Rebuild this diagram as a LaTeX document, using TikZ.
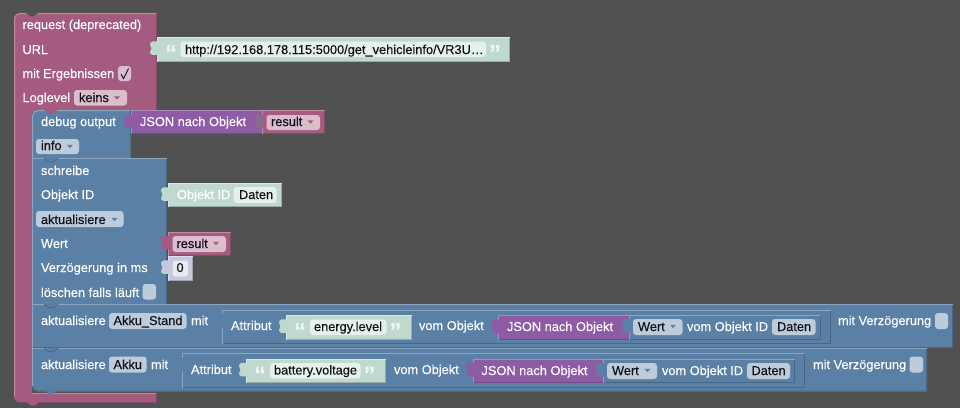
\documentclass[tikz,border=0pt]{standalone}
\usepackage{fontspec}
\setmainfont[FakeBold=0.15]{Liberation Sans}
\definecolor{bg}{HTML}{515151}
\definecolor{pk}{HTML}{A55B80}\definecolor{pkL}{HTML}{C08DA6}\definecolor{pkD}{HTML}{844966}\definecolor{pkF}{HTML}{DBBDCC}
\definecolor{bl}{HTML}{5B80A5}\definecolor{blL}{HTML}{8CA6C0}\definecolor{blD}{HTML}{496684}\definecolor{blF}{HTML}{BDCCDB}
\definecolor{gr}{HTML}{BFD9CF}\definecolor{grL}{HTML}{D9E8E2}\definecolor{grD}{HTML}{98ADA5}\definecolor{grF}{HTML}{E6F0EC}
\definecolor{pu}{HTML}{8E5BA5}\definecolor{puL}{HTML}{AA8CC0}\definecolor{puD}{HTML}{724984}
\definecolor{nu}{HTML}{C6C9DD}\definecolor{nuL}{HTML}{DDDFEB}\definecolor{nuD}{HTML}{9EA1B1}\definecolor{nuF}{HTML}{E8E9F1}
\definecolor{ink}{HTML}{101018}
\tikzset{
  x=1pt,y=-1pt,
  wlabel/.style={anchor=base west,inner sep=0pt,outer sep=0pt,text=white,font=\fontsize{12.8}{14}\selectfont},
  dlabel/.style={anchor=base west,inner sep=0pt,outer sep=0pt,text=ink,font=\fontsize{12.8}{14}\selectfont},
  qmark/.style={anchor=center,inner sep=0pt,font=\fontsize{23}{23}\selectfont\bfseries},
  fieldbox/.style={rounded corners=3pt},
}
% block: x1,y1,x2,y2,colour prefix
\newcommand{\blk}[5]{%
  \fill[#5] (#1,#2) rectangle (#3,#4);
  \draw[#5D,line width=1pt] (#3-.5,#2) -- (#3-.5,#4-.5) -- (#1,#4-.5);
  \draw[#5L,line width=1pt] (#1+.5,#4) -- (#1+.5,#2+.5) -- (#3,#2+.5);}
% puzzle tab on left side of a value block: x, block top, colour prefix
\newcommand{\tabl}[3]{%
  \fill[#3] (#1+1,#2+4.5) -- (#1,#2+4.5) .. controls (#1-3,#2+4) and (#1-7,#2+4) .. (#1-7,#2+7.5)
     .. controls (#1-7,#2+9.5) and (#1-5.5,#2+9.5) .. (#1-5.5,#2+11.5)
     .. controls (#1-5.5,#2+13.5) and (#1-7,#2+13.5) .. (#1-7,#2+15)
     .. controls (#1-7,#2+18.5) and (#1-3,#2+18) .. (#1,#2+18) -- (#1+1,#2+18) -- cycle;}
\newcommand{\notch}[3]{\fill[#3] (#1,#2-.2) -- (#1+5,#2+3.5) -- (#1+9,#2+3.5) -- (#1+14,#2-.2) -- cycle;}
% text field: x1,y1,x2,y2,fill
\newcommand{\fld}[5]{\fill[#5,fieldbox] (#1,#2) rectangle (#3,#4);}
\newcommand{\arrowd}[3]{\fill[#3] (#1-3,#2-1.7) -- (#1+3,#2-1.7) -- (#1,#2+1.7) -- cycle;}
\begin{document}
\begin{tikzpicture}
\useasboundingbox (0,0) rectangle (960,408);
\fill[bg] (0,0) rectangle (960,408);

% request block
\fill[pk] (14,19) .. controls (14,15.7) and (16.7,13) .. (20,13) -- (156.5,13) -- (156.5,112) -- (32,112) -- (32,393) -- (156.5,393) -- (156.5,402.5) -- (20,402.5) .. controls (16.7,402.5) and (14,399.8) .. (14,396.5) -- cycle;
\draw[pkL,line width=1pt] (14.5,396) -- (14.5,19) .. controls (14.5,16) and (17,13.5) .. (20,13.5) -- (157,13.5);
\draw[pkD,line width=1pt] (156,13) -- (156,112);
\draw[pkD,line width=1pt] (156,393) -- (156,402.5) -- (20,402.5);
\fill[pkL] (32,393) rectangle (156,394);
\fill[bg] (25,12.5) -- (30,16) -- (34,16) -- (39,12.5) -- cycle;
\fill[pk] (27,402) -- (31,405.5) -- (35,405.5) -- (39,402) -- cycle;

\node[wlabel] (reqT) at (22.5,29) {request (deprecated)};
\node[wlabel] (urlT) at (22.5,54) {URL};
\node[wlabel] (ergT) at (22.5,78) {mit Ergebnissen};
\fld{118}{66}{131}{81}{pkF}
\draw[ink,line width=.9pt] (121,74) -- (123.5,78.5) -- (128.5,68.5);
\node[wlabel] (logT) at (22.5,102) {Loglevel};
\fld{74}{90}{127}{105.5}{pkF}
\node[dlabel] (keinsT) at (79,102) {keins};
\arrowd{117}{98}{pk}

% URL string
\blk{157}{37}{510}{61.5}{gr}
\tabl{157}{37}{gr}
\node[qmark,text=grL!40!white] (q1) at (171,53) {“};
\fld{180.5}{41.5}{486}{57}{grF}
\node[dlabel] (urlV) at (185,54) {http://192.168.178.115:5000/get\_vehicleinfo/VR3U…};
\node[qmark,text=grL!40!white] (q2) at (495,53) {”};

% debug output
\fill[bl] (32,116) .. controls (32,112.7) and (34.7,110) .. (38,110) -- (130.5,110) -- (130.5,158) -- (32,158) -- cycle;
\draw[blL,line width=1pt] (32.5,158) -- (32.5,116) .. controls (32.5,113) and (35,110.5) .. (38,110.5) -- (131,110.5);
\draw[blD,line width=1pt] (130.5,110) -- (130.5,134);
\notch{44}{110}{pk}
\node[wlabel] (dbgT) at (41,126) {debug output};
\fld{36}{139}{79}{154}{blF}
\node[dlabel] (infoT) at (41,150) {info};
\arrowd{70}{146.5}{bl}
\blk{131}{110}{262.5}{134}{pu}
\tabl{131}{110}{pu}
\node[wlabel] (js0) at (140,126) {JSON nach Objekt};
\blk{262}{110}{325}{134}{pk}
\tabl{262}{110}{bl!40!pk}
\fld{266.5}{115}{320}{130}{pkF}
\node[dlabel] (res0) at (271,126) {result};
\arrowd{310.5}{122}{pk}

% schreibe
\blk{32}{158}{167}{304.5}{bl}
\notch{44}{158}{bl}
\draw[blD,line width=.8pt] (44,158.3) -- (49,161.8) -- (53,161.8) -- (58,158.3);
\node[wlabel] (schrT) at (41,175) {schreibe};
\node[wlabel] (oidT) at (41,199) {Objekt ID};
\fld{36}{211}{123.5}{227}{blF}
\node[dlabel] (aktT) at (41,224) {aktualisiere};
\arrowd{114.5}{219.5}{bl}
\node[wlabel] (wertT) at (41,248) {Wert};
\node[wlabel] (verzT) at (41,272) {Verzögerung in ms};
\node[wlabel] (loeT) at (41,297) {löschen falls läuft};
\fld{142.5}{284}{156}{299.5}{blF}

\blk{168}{183}{281.5}{207}{gr}
\tabl{168}{183}{gr}
\node[wlabel,text=white] (oidV) at (177,199) {Objekt ID};
\fld{233.5}{187}{276.5}{203}{grF}
\node[dlabel] (datV) at (239,199) {Daten};

\blk{168}{231.5}{230.5}{255.5}{pk}
\tabl{168}{231.5}{pk}
\fld{172.5}{236}{226}{252}{pkF}
\node[dlabel] (res1) at (176.5,248) {result};
\arrowd{216}{243.5}{pk}

\blk{168}{256}{192.5}{280.5}{nu}
\tabl{168}{256}{nu}
\fld{172.5}{260.5}{188}{276.5}{nuF}
\node[dlabel] (zero) at (176.5,272) {0};

% aktualisiere Akku_Stand
\blk{32}{304}{952.5}{348}{bl}
\notch{44}{304}{bl}
\draw[blD,line width=.8pt] (44,304.3) -- (49,307.8) -- (53,307.8) -- (58,304.3);
\node[wlabel] (a1T) at (41,325) {aktualisiere};
\fld{109}{313}{186.5}{329}{blF}
\node[dlabel] (a1V) at (113.5,325) {Akku\_Stand};
\node[wlabel] (a1M) at (191,325) {mit};
\blk{222}{309.5}{830.5}{344}{bl}
\tabl{222}{309.5}{bl}
\node[wlabel] (a1A) at (231,330) {Attribut};
\blk{286}{315}{411.5}{339.5}{gr}
\tabl{286}{315}{gr}
\node[qmark,text=grL!40!white] (q3) at (300,331) {“};
\fld{310}{319.5}{386.5}{335}{grF}
\node[dlabel] (a1S) at (314,331) {energy.level};
\node[qmark,text=grL!40!white] (q4) at (395.5,331) {”};
\node[wlabel] (a1O) at (419,330) {vom Objekt};
\blk{498}{315}{629.5}{339.5}{pu}
\tabl{498}{315}{pu}
\node[wlabel] (js1) at (507,331) {JSON nach Objekt};
\blk{629}{314.5}{820.5}{339.5}{bl}
\tabl{629}{314.5}{bl}
\fld{633}{319}{682.5}{335}{blF}
\node[dlabel] (w1) at (638,331) {Wert};
\arrowd{673}{326.5}{bl}
\node[wlabel] (o1) at (687,331) {vom Objekt ID};
\fld{772}{319}{815.5}{335}{blF}
\node[dlabel] (d1) at (777,331) {Daten};
\node[wlabel] (mv1) at (838,325) {mit Verzögerung};
\fld{935}{313}{948}{329}{blF}

% aktualisiere Akku
\fill[bl] (32,348) -- (927,348) -- (927,391.5) -- (38,391.5) .. controls (34.7,391.5) and (32,388.8) .. (32,385.5) -- cycle;
\draw[blD,line width=1pt] (926.5,348) -- (926.5,391) -- (38,391) .. controls (34.7,391) and (32.5,388.8) .. (32.5,385.5);
\draw[blL,line width=1pt] (32.5,348) -- (32.5,385.5);
\draw[blL,line width=1pt] (32,348.5) -- (927,348.5);
\notch{44}{348}{bl}
\draw[blD,line width=.8pt] (44,348.3) -- (49,351.8) -- (53,351.8) -- (58,348.3);
\fill[bl] (46,391) -- (49,394.5) -- (53,394.5) -- (56,391) -- cycle;
\node[wlabel] (a2T) at (41,369) {aktualisiere};
\fld{109}{356.5}{146.5}{372.5}{blF}
\node[dlabel] (a2V) at (113.5,369) {Akku};
\node[wlabel] (a2M) at (151,369) {mit};
\blk{182}{353}{804.5}{387.5}{bl}
\tabl{182}{353}{bl}
\node[wlabel] (a2A) at (191,374) {Attribut};
\blk{246}{358.5}{385.5}{383}{gr}
\tabl{246}{358.5}{gr}
\node[qmark,text=grL!40!white] (q5) at (260,374.5) {“};
\fld{270}{363}{360.5}{378.5}{grF}
\node[dlabel] (a2S) at (274,374.5) {battery.voltage};
\node[qmark,text=grL!40!white] (q6) at (369.5,374.5) {”};
\node[wlabel] (a2O) at (394,374) {vom Objekt};
\blk{473}{358.5}{603.5}{383}{pu}
\tabl{473}{358.5}{pu}
\node[wlabel] (js2) at (481.5,375) {JSON nach Objekt};
\blk{603}{358.5}{795}{383}{bl}
\tabl{603}{358.5}{bl}
\fld{607}{363}{657}{379}{blF}
\node[dlabel] (w2) at (612,375) {Wert};
\arrowd{647.5}{370.5}{bl}
\node[wlabel] (o2) at (662,375) {vom Objekt ID};
\fld{747}{363}{790}{379}{blF}
\node[dlabel] (d2) at (751.5,375) {Daten};
\node[wlabel] (mv2) at (813,369) {mit Verzögerung};
\fld{909.5}{356.5}{923}{372.5}{blF}
\end{tikzpicture}
\end{document}
